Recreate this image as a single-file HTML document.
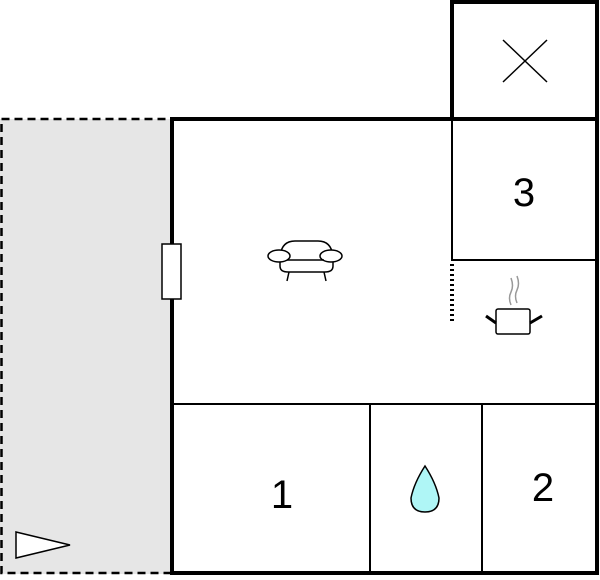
<!DOCTYPE html>
<html><head><style>body{margin:0;background:#fff}svg{display:block}</style></head><body>
<svg width="600" height="580" viewBox="0 0 600 580" xmlns="http://www.w3.org/2000/svg">
<rect x="0" y="119" width="170" height="455" fill="#e6e6e6"/>
<rect x="1.5" y="119" width="170" height="454" fill="none" stroke="#000" stroke-width="2.5" stroke-dasharray="8,5"/>
<rect x="172" y="119" width="425" height="454" fill="#fff" stroke="#000" stroke-width="4"/>
<rect x="452" y="2" width="145" height="117" fill="#fff" stroke="#000" stroke-width="4"/>
<line x1="503" y1="40" x2="547" y2="82" stroke="#000" stroke-width="1.5"/>
<line x1="547" y1="40" x2="503" y2="82" stroke="#000" stroke-width="1.5"/>
<polyline points="452,119 452,260 597,260" fill="none" stroke="#000" stroke-width="2"/>
<line x1="452" y1="264" x2="452" y2="324" stroke="#000" stroke-width="4" stroke-dasharray="2,3"/>
<line x1="172" y1="404" x2="597" y2="404" stroke="#000" stroke-width="2"/>
<line x1="370" y1="404" x2="370" y2="573" stroke="#000" stroke-width="2"/>
<line x1="482" y1="404" x2="482" y2="573" stroke="#000" stroke-width="2"/>
<rect x="162" y="244" width="19" height="55" fill="#fff" stroke="#000" stroke-width="1.5"/>
<g fill="#fff" stroke="#000" stroke-width="1.5">
<path d="M280,260 Q280,241 295,241 L318,241 Q333,241 333,260 L333,266 Q333,272 325,272 L288,272 Q280,272 280,266 Z"/>
<ellipse cx="279" cy="256" rx="11" ry="6"/>
<ellipse cx="331" cy="256" rx="11" ry="6"/>
<line x1="287" y1="260" x2="324" y2="260"/>
<line x1="289" y1="272" x2="287" y2="281"/>
<line x1="324" y1="272" x2="326" y2="281"/>
</g>
<g fill="#fff" stroke="#000" stroke-width="1.5">
<rect x="496" y="309" width="34" height="25" rx="2"/>
<line x1="486" y1="316" x2="496" y2="323" stroke-width="3"/>
<line x1="542" y1="316" x2="530" y2="323" stroke-width="3"/>
<path d="M511,305 Q508,298 511,292 Q514,286 511,278" stroke="#999"/>
<path d="M517,303 Q514,296 517,290 Q520,284 517,276" stroke="#999"/>
</g>
<path d="M425,466 Q414,483 411,498 Q411,512 425,512 Q439,512 439,498 Q436,483 425,466 Z" fill="#aff6f6" stroke="#000" stroke-width="1.5"/>
<polygon points="16,532 70,545 16,558" fill="#fff" stroke="#000" stroke-width="1.5"/>
<g font-family="Liberation Sans, sans-serif" font-size="40" text-anchor="middle" fill="#000">
<text x="524" y="206">3</text>
<text x="282" y="508">1</text>
<text x="543" y="501">2</text>
</g>
</svg>
</body></html>
